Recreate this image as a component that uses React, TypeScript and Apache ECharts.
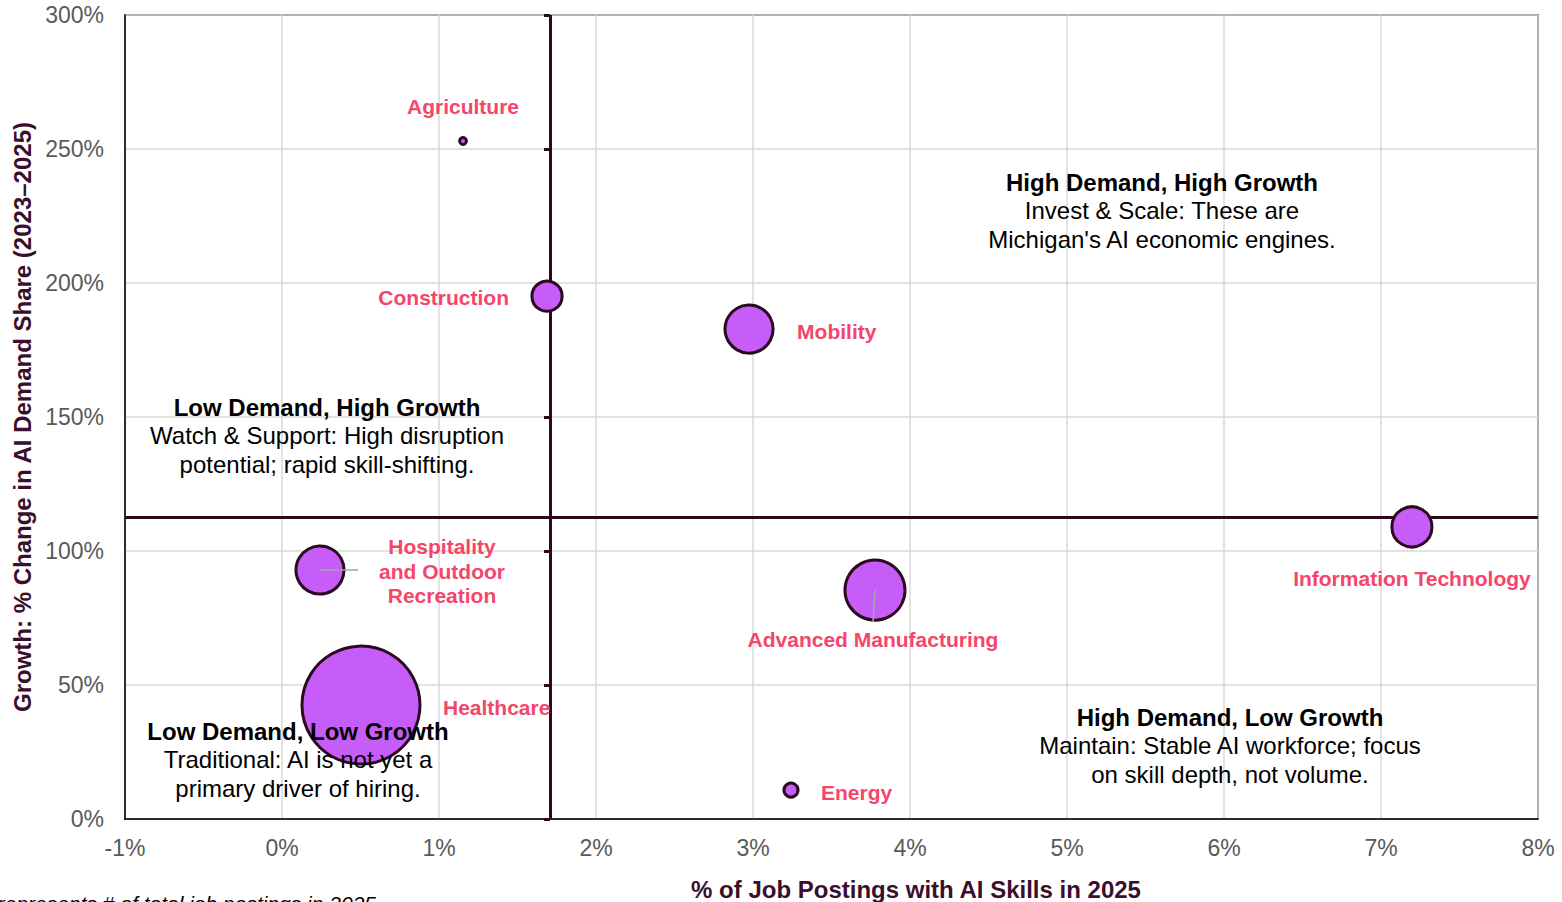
import React, { useEffect, useRef } from "react";
import * as echarts from "echarts";

const sectors = [
  "Agriculture",
  "Construction",
  "Mobility",
  "Information Technology",
  "Advanced Manufacturing",
  "Hospitality\nand Outdoor\nRecreation",
  "Healthcare",
  "Energy",
];
const aiShare = [1.153, 1.688, 2.975, 7.197, 3.777, 0.242, 0.503, 3.242];
const growth = [253.0, 195.1, 182.8, 109.0, 85.4, 92.9, 42.5, 10.8];
const postings = [400, 4500, 10700, 7600, 16300, 10700, 60000, 1200];

const xTicks = { min: -1, max: 8, interval: 1 };
const yTicks = { min: 0, max: 300, interval: 50 };
const demandSplit = 1.707;
const growthSplit = 112.7;

const xTitle = "% of Job Postings with AI Skills in 2025";
const yTitle = "Growth: % Change in AI Demand Share (2023\u20132025)";
const footnote = "Bubble size represents # of total job postings in 2025";

// label placement relative to bubble centre (style, not data)
const labelPlace: any[] = [
  { align: "center", offset: [0, -34] },
  { align: "right", offset: [-38, 1] },
  { align: "left", offset: [48, 2] },
  { align: "center", offset: [0, 52] },
  { align: "center", offset: [-2, 49] },
  { align: "center", offset: [122, 1] },
  { align: "left", offset: [82, 2] },
  { align: "left", offset: [30, 2] },
];

const quadrants = [
  { x: 1162, y: 182, title: "High Demand, High Growth", lines: ["Invest & Scale: These are", "Michigan's AI economic engines."] },
  { x: 327, y: 407, title: "Low Demand, High Growth", lines: ["Watch & Support: High disruption", "potential; rapid skill-shifting."] },
  { x: 298, y: 731, title: "Low Demand, Low Growth", lines: ["Traditional: AI is not yet a", "primary driver of hiring."] },
  { x: 1230, y: 717, title: "High Demand, Low Growth", lines: ["Maintain: Stable AI workforce; focus", "on skill depth, not volume."] },
];

const FONT = "Liberation Sans, Arial, sans-serif";
const DARK = "#2B0A20";
const LABEL = "#F5456A";
const TITLE = "#3B0E2B";

export default function App() {
  const ref = useRef<HTMLDivElement>(null);
  useEffect(() => {
    if (!ref.current) return;
    const chart = echarts.init(ref.current, undefined, { renderer: "svg" });
    const vmax = Math.max(...postings);
    const data = sectors.map((s, i) => ({
      name: s,
      value: [aiShare[i], growth[i], postings[i]],
      symbolSize: 121 * Math.sqrt(postings[i] / vmax) - 3,
      label: {
        show: true,
        position: "inside",
        formatter: s,
        align: labelPlace[i].align,
        verticalAlign: "middle",
        offset: labelPlace[i].offset,
        color: LABEL,
        fontWeight: "bold",
        fontSize: 21,
        lineHeight: 24.5,
        fontFamily: FONT,
      },
    }));
    chart.setOption({
      animation: false,
      textStyle: { fontFamily: FONT },
      grid: {
        left: 125,
        right: 24,
        top: 15,
        bottom: 83,
        outerBoundsMode: "none",
        containLabel: false,
        show: true,
        borderColor: "#000",
        borderWidth: 1.5,
        backgroundColor: "transparent",
      },
      xAxis: {
        type: "value",
        min: xTicks.min,
        max: xTicks.max,
        interval: xTicks.interval,
        axisLine: { show: true, onZero: false, lineStyle: { color: "#000", width: 1.5 } },
        axisTick: { show: false },
        axisLabel: { formatter: (v: number) => `${v}%`, color: "#595959", fontSize: 23, margin: 17, fontFamily: FONT },
        splitLine: { show: true, lineStyle: { color: "#D9D9D9", width: 1.5 } },
      },
      yAxis: [
        {
          type: "value",
          min: yTicks.min,
          max: yTicks.max,
          interval: yTicks.interval,
          axisLine: { show: true, onZero: false, lineStyle: { color: "#000", width: 1.5 } },
          axisTick: { show: false },
          axisLabel: { formatter: (v: number) => `${v}%`, color: "#595959", fontSize: 23, margin: 21, fontFamily: FONT },
          splitLine: { show: true, lineStyle: { color: "#D9D9D9", width: 1.5 } },
        },
        {
          type: "value",
          position: "left",
          offset: -425,
          min: yTicks.min,
          max: yTicks.max,
          interval: yTicks.interval,
          axisLine: { show: false },
          axisTick: { show: true, inside: false, length: 6, lineStyle: { color: DARK, width: 3 } },
          axisLabel: { show: false },
          splitLine: { show: false },
        },
      ],
      series: [
        {
          type: "scatter",
          data,
          itemStyle: { color: "#C75DF9", borderColor: DARK, borderWidth: 3, opacity: 1 },
          emphasis: { disabled: true },
          markLine: {
            silent: true,
            symbol: "none",
            label: { show: false },
            lineStyle: { color: DARK, width: 3, type: "solid" },
            data: [{ xAxis: demandSplit }, { yAxis: growthSplit }],
            z: 1,
          },
          z: 3,
        },
      ],
    });

    const px = (i: number) => chart.convertToPixel({ gridIndex: 0 }, [aiShare[i], growth[i]]) as number[];
    const hosp = px(5);
    const adv = px(4);
    const graphics: any[] = [
      { type: "line", z: 50, shape: { x1: hosp[0], y1: hosp[1], x2: hosp[0] + 38, y2: hosp[1] }, style: { stroke: "#A6A6A6", lineWidth: 1.5 } },
      { type: "line", z: 50, shape: { x1: adv[0], y1: adv[1], x2: adv[0] - 2, y2: adv[1] + 32 }, style: { stroke: "#A6A6A6", lineWidth: 1.5 } },
      {
        type: "text",
        z: 50,
        x: 916,
        y: 889,
        style: { text: xTitle, font: `bold 24px ${FONT}`, fill: TITLE, textAlign: "center", textVerticalAlign: "middle" },
      },
      {
        type: "text",
        z: 50,
        x: 22,
        y: 417,
        rotation: Math.PI / 2,
        style: { text: yTitle, font: `bold 24px ${FONT}`, fill: TITLE, textAlign: "center", textVerticalAlign: "middle" },
      },
      {
        type: "text",
        z: 50,
        x: 376,
        y: 903,
        style: { text: footnote, font: `italic 21px ${FONT}`, fill: "#000", textAlign: "right", textVerticalAlign: "middle" },
      },
    ];
    quadrants.forEach((q) => {
      graphics.push({
        type: "text",
        z: 60,
        x: q.x,
        y: q.y,
        style: { text: q.title, font: `bold 24px ${FONT}`, fill: "#000", textAlign: "center", textVerticalAlign: "middle" },
      });
      q.lines.forEach((l, j) => {
        graphics.push({
          type: "text",
          z: 60,
          x: q.x,
          y: q.y + 28.5 * (j + 1),
          style: { text: l, font: `24px ${FONT}`, fill: "#000", textAlign: "center", textVerticalAlign: "middle" },
        });
      });
    });
    chart.setOption({ graphic: graphics });
    return () => chart.dispose();
  }, []);
  return <div ref={ref} style={{ position: "fixed", left: 0, top: 0, width: 1562, height: 902, background: "#fff" }} />;
}
